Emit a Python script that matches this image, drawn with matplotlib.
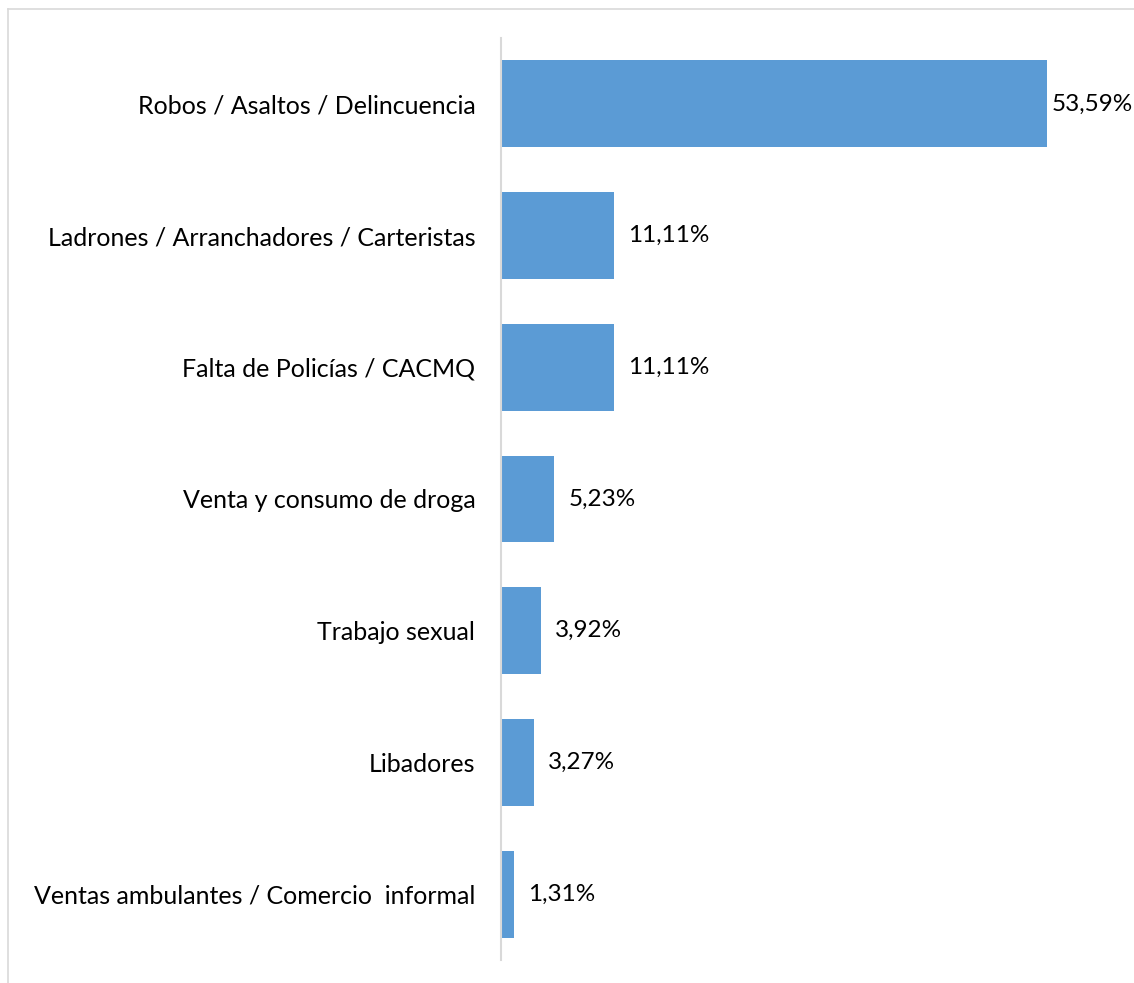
import matplotlib
matplotlib.use('Agg')
import matplotlib.pyplot as plt
from matplotlib.lines import Line2D

# Data
categories = [
    'Robos / Asaltos / Delincuencia',
    'Ladrones / Arranchadores / Carteristas',
    'Falta de Policías / CACMQ',
    'Venta y consumo de droga',
    'Trabajo sexual',
    'Libadores',
    'Ventas ambulantes / Comercio  informal',
]
values = [53.59, 11.11, 11.11, 5.23, 3.92, 3.27, 1.31]
value_labels = ['53,59%', '11,11%', '11,11%', '5,23%', '3,92%', '3,27%', '1,31%']

plt.rcParams['font.family'] = ['Lato', 'DejaVu Sans']

W, H = 1134, 983
fig = plt.figure(figsize=(W / 100, H / 100), dpi=100)

# frame lines of the original chart box
fig.add_artist(Line2D([8 / W, 8 / W], [0, 1 - 9 / H], color='#D9D9D9', lw=1.2))
fig.add_artist(Line2D([8 / W, 1], [1 - 9 / H, 1 - 9 / H], color='#D9D9D9', lw=1.2))

ax = fig.add_axes([501 / W, 23 / H, (W - 501) / W, (960 - 38) / H])
y = list(range(len(categories)))
ax.barh(y, values, height=0.66, color='#5B9BD5')
ax.set_ylim(len(categories) - 0.5, -0.5)
ax.set_xlim(0, (W - 501) / (546 / 53.59))

ax.set_yticks(y)
ax.set_yticklabels(categories, fontsize=18)
ax.tick_params(axis='y', length=0, pad=18.5)
ax.set_xticks([])

for s in ['top', 'right', 'bottom']:
    ax.spines[s].set_visible(False)
ax.spines['left'].set_color('#D9D9D9')
ax.spines['left'].set_linewidth(1.5)

for yi, v, lab in zip(y, values, value_labels):
    ax.annotate(lab, (v, yi), xytext=(3.5 if v > 50 else 10, 0), textcoords='offset points',
                va='center', ha='left', fontsize=17.5)

fig.savefig('out.png', dpi=100)
